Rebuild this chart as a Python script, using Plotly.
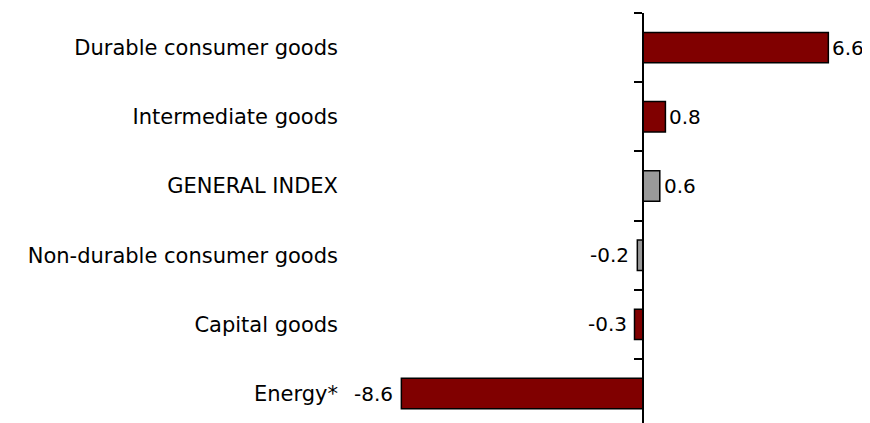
import plotly.graph_objects as go

categories = ["Durable consumer goods", "Intermediate goods", "GENERAL INDEX",
              "Non-durable consumer goods", "Capital goods", "Energy*"]
values = [6.6, 0.8, 0.6, -0.2, -0.3, -8.6]
bar_colors = ["#800000", "#800000", "#999999", "#999999", "#800000", "#800000"]

FONT = "DejaVu Sans"
x_min, x_max = -10.82, 7.30
y_range = [5.425, -0.5]

fig = go.Figure()
fig.add_trace(go.Bar(
    y=categories, x=values, orientation="h",
    marker=dict(color=bar_colors, line=dict(color="black", width=1.5)),
    width=0.44, hoverinfo="skip",
))
# helper trace to carry the zero axis with boundary ticks
fig.add_trace(go.Scatter(
    y=categories, x=[0] * len(categories), yaxis="y2", mode="markers",
    marker=dict(opacity=0), hoverinfo="skip", showlegend=False,
))

for cat, v in zip(categories, values):
    fig.add_annotation(
        x=v, y=cat, xref="x", yref="y", text=f"{v:.1f}", showarrow=False,
        xanchor="left" if v >= 0 else "right", xshift=2 if v >= 0 else -6,
        font=dict(family=FONT, size=20, color="black"),
    )

fig.update_layout(
    width=862, height=415,
    margin=dict(l=331, r=22, t=5, b=0),
    paper_bgcolor="white", plot_bgcolor="white",
    showlegend=False,
    xaxis=dict(range=[x_min, x_max], showgrid=False, zeroline=False,
               showline=False, showticklabels=False, ticks=""),
    yaxis=dict(type="category", categoryorder="array", categoryarray=categories,
               range=y_range, showgrid=False, zeroline=False, showline=False,
               ticks="", tickfont=dict(family=FONT, size=21, color="black")),
    yaxis2=dict(type="category", categoryorder="array", categoryarray=categories,
                range=y_range, overlaying="y", anchor="free",
                position=(0 - x_min) / (x_max - x_min), side="left",
                showgrid=False, zeroline=False, showline=True,
                linecolor="black", linewidth=1.5,
                ticks="outside", ticklen=8, tickwidth=1.5, tickcolor="black",
                tickson="boundaries", showticklabels=False),
)

fig.write_html("out.html", post_script="document.body.style.overflow='hidden';")
